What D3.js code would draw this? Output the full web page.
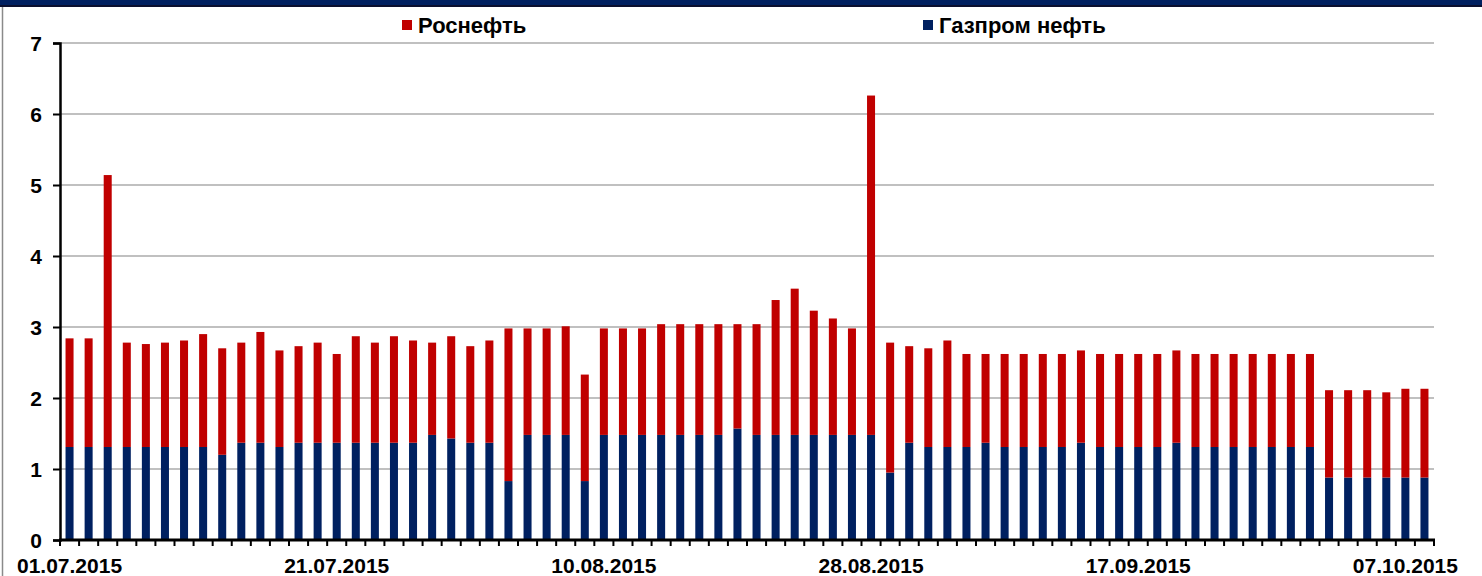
<!DOCTYPE html>
<html>
<head>
<meta charset="utf-8">
<script src="https://cdn.jsdelivr.net/npm/d3@7"></script>
<style>
  html, body { margin: 0; padding: 0; background: #fff; }
  svg { display: block; }
  text { font-family: Arial, "Liberation Sans", sans-serif; font-weight: bold; fill: #000; }
</style>
</head>
<body>
<svg id="chart" width="1482" height="576"></svg>
<script>
const dates = [
  "01.07.2015","02.07.2015","03.07.2015","06.07.2015","07.07.2015","08.07.2015","09.07.2015","10.07.2015",
  "13.07.2015","14.07.2015","15.07.2015","16.07.2015","17.07.2015","20.07.2015","21.07.2015","22.07.2015",
  "23.07.2015","24.07.2015","27.07.2015","28.07.2015","29.07.2015","30.07.2015","31.07.2015",
  "03.08.2015","04.08.2015","05.08.2015","06.08.2015","07.08.2015","10.08.2015","11.08.2015","12.08.2015",
  "13.08.2015","14.08.2015","17.08.2015","18.08.2015","19.08.2015","20.08.2015","21.08.2015","24.08.2015",
  "25.08.2015","26.08.2015","27.08.2015","28.08.2015","31.08.2015",
  "01.09.2015","02.09.2015","03.09.2015","04.09.2015","07.09.2015","08.09.2015","09.09.2015","10.09.2015",
  "11.09.2015","14.09.2015","15.09.2015","16.09.2015","17.09.2015","18.09.2015","21.09.2015","22.09.2015",
  "23.09.2015","24.09.2015","25.09.2015","28.09.2015","29.09.2015","30.09.2015",
  "01.10.2015","02.10.2015","05.10.2015","06.10.2015","07.10.2015","08.10.2015"
];

const gazpromNeft = [
  1.31,1.31,1.31,1.31,1.31,1.31,1.31,1.31,1.20,1.37,1.37,1.31,1.37,1.37,1.37,1.37,
  1.37,1.37,1.37,1.48,1.43,1.37,1.37,0.83,1.48,1.48,1.48,0.83,1.48,1.48,1.48,1.48,
  1.48,1.48,1.48,1.57,1.48,1.48,1.48,1.48,1.48,1.48,1.48,0.95,1.37,1.31,1.31,1.31,
  1.37,1.31,1.31,1.31,1.31,1.37,1.31,1.31,1.31,1.31,1.37,1.31,1.31,1.31,1.31,1.31,
  1.31,1.31,0.88,0.88,0.88,0.88,0.88,0.88
];

const rosneft = [
  1.53,1.53,3.83,1.47,1.45,1.47,1.50,1.59,1.50,1.41,1.56,1.36,1.36,1.41,1.25,1.50,
  1.41,1.50,1.44,1.30,1.44,1.36,1.44,2.15,1.50,1.50,1.53,1.50,1.50,1.50,1.50,1.56,
  1.56,1.56,1.56,1.47,1.56,1.90,2.06,1.75,1.64,1.50,4.78,1.83,1.36,1.39,1.50,1.31,
  1.25,1.31,1.31,1.31,1.31,1.30,1.31,1.31,1.31,1.31,1.30,1.31,1.31,1.31,1.31,1.31,
  1.31,1.31,1.23,1.23,1.23,1.20,1.25,1.25
];

const yTicks = [0, 1, 2, 3, 4, 5, 6, 7];
const xLabelDates = ["01.07.2015","21.07.2015","10.08.2015","28.08.2015","17.09.2015","07.10.2015"];
const seriesNames = ["Роснефть", "Газпром нефть"];
const seriesColors = { rosneft: "#C00000", gazpromNeft: "#002060" };

(function () {
const svg = d3.select("#chart");
const W = 1482, H = 576;
const plotLeft = 60, plotRight = 1434, plotTop = 43, plotBottom = 540;

// frame: top band and left border
svg.append("rect").attr("x", 0).attr("y", 0).attr("width", W).attr("height", 5).attr("fill", "#002060");
svg.append("rect").attr("x", 0).attr("y", 5).attr("width", W).attr("height", 2).attr("fill", "#0b0f2e");
svg.append("line").attr("x1", 2.5).attr("x2", 2.5).attr("y1", 7).attr("y2", H)
  .attr("stroke", "#8a8a8a").attr("stroke-width", 1.5);

const data = dates.map((d, i) => ({ date: d, gazpromNeft: gazpromNeft[i], rosneft: rosneft[i] }));

const x = d3.scaleBand().domain(dates).range([plotLeft, plotRight]).paddingInner(0.58).paddingOuter(0.29);
const y = d3.scaleLinear().domain([0, 7]).range([plotBottom, plotTop]);

// gridlines
svg.append("g").selectAll("line").data(yTicks.filter(t => t > 0)).join("line")
  .attr("x1", plotLeft).attr("x2", plotRight)
  .attr("y1", d => y(d)).attr("y2", d => y(d))
  .attr("stroke", "#c0c0c0").attr("stroke-width", 2);

// stacked bars
const stack = d3.stack().keys(["gazpromNeft", "rosneft"]);
const layers = stack(data);
svg.append("g").selectAll("g").data(layers).join("g")
  .attr("fill", d => seriesColors[d.key])
  .selectAll("rect").data(d => d).join("rect")
  .attr("x", d => x(d.data.date))
  .attr("width", x.bandwidth())
  .attr("y", d => y(d[1]))
  .attr("height", d => y(d[0]) - y(d[1]));

// y axis
const yAxis = svg.append("g").attr("transform", `translate(${plotLeft},0)`)
  .call(d3.axisLeft(y).tickValues(yTicks).tickSize(7).tickPadding(11).tickFormat(d3.format("d")));
yAxis.select(".domain").attr("stroke", "#000").attr("stroke-width", 2.5);
yAxis.selectAll(".tick line").attr("stroke", "#000").attr("stroke-width", 2);
yAxis.selectAll(".tick text").style("font-size", "21px").style("font-family", "Arial, 'Liberation Sans', sans-serif")
  .style("font-weight", "bold").attr("fill", "#000").attr("dy", "0.36em");

// x axis line + ticks between categories
const step = x.step();
const tickPositions = d3.range(dates.length + 1).map(i => plotLeft + i * step);
svg.append("g").selectAll("line").data(tickPositions).join("line")
  .attr("x1", d => d).attr("x2", d => d).attr("y1", plotBottom).attr("y2", plotBottom + 6)
  .attr("stroke", "#000").attr("stroke-width", 2);
svg.append("line").attr("x1", plotLeft - 1).attr("x2", plotRight + 1).attr("y1", plotBottom).attr("y2", plotBottom)
  .attr("stroke", "#000").attr("stroke-width", 3);

// x labels
svg.append("g").selectAll("text").data(xLabelDates).join("text")
  .attr("x", d => x(d) + x.bandwidth() / 2)
  .attr("y", 573)
  .attr("text-anchor", "middle")
  .style("font-size", "21px")
  .text(d => d);

// legend
const legend = [
  { name: seriesNames[0], color: seriesColors.rosneft, x: 402 },
  { name: seriesNames[1], color: seriesColors.gazpromNeft, x: 923 }
];
const lg = svg.append("g").selectAll("g").data(legend).join("g")
  .attr("transform", d => `translate(${d.x},20)`);
lg.append("rect").attr("width", 10).attr("height", 10).attr("fill", d => d.color);
lg.append("text").attr("x", 16).attr("y", 13).style("font-size", "22px").text(d => d.name);
})();
</script>
</body>
</html>
